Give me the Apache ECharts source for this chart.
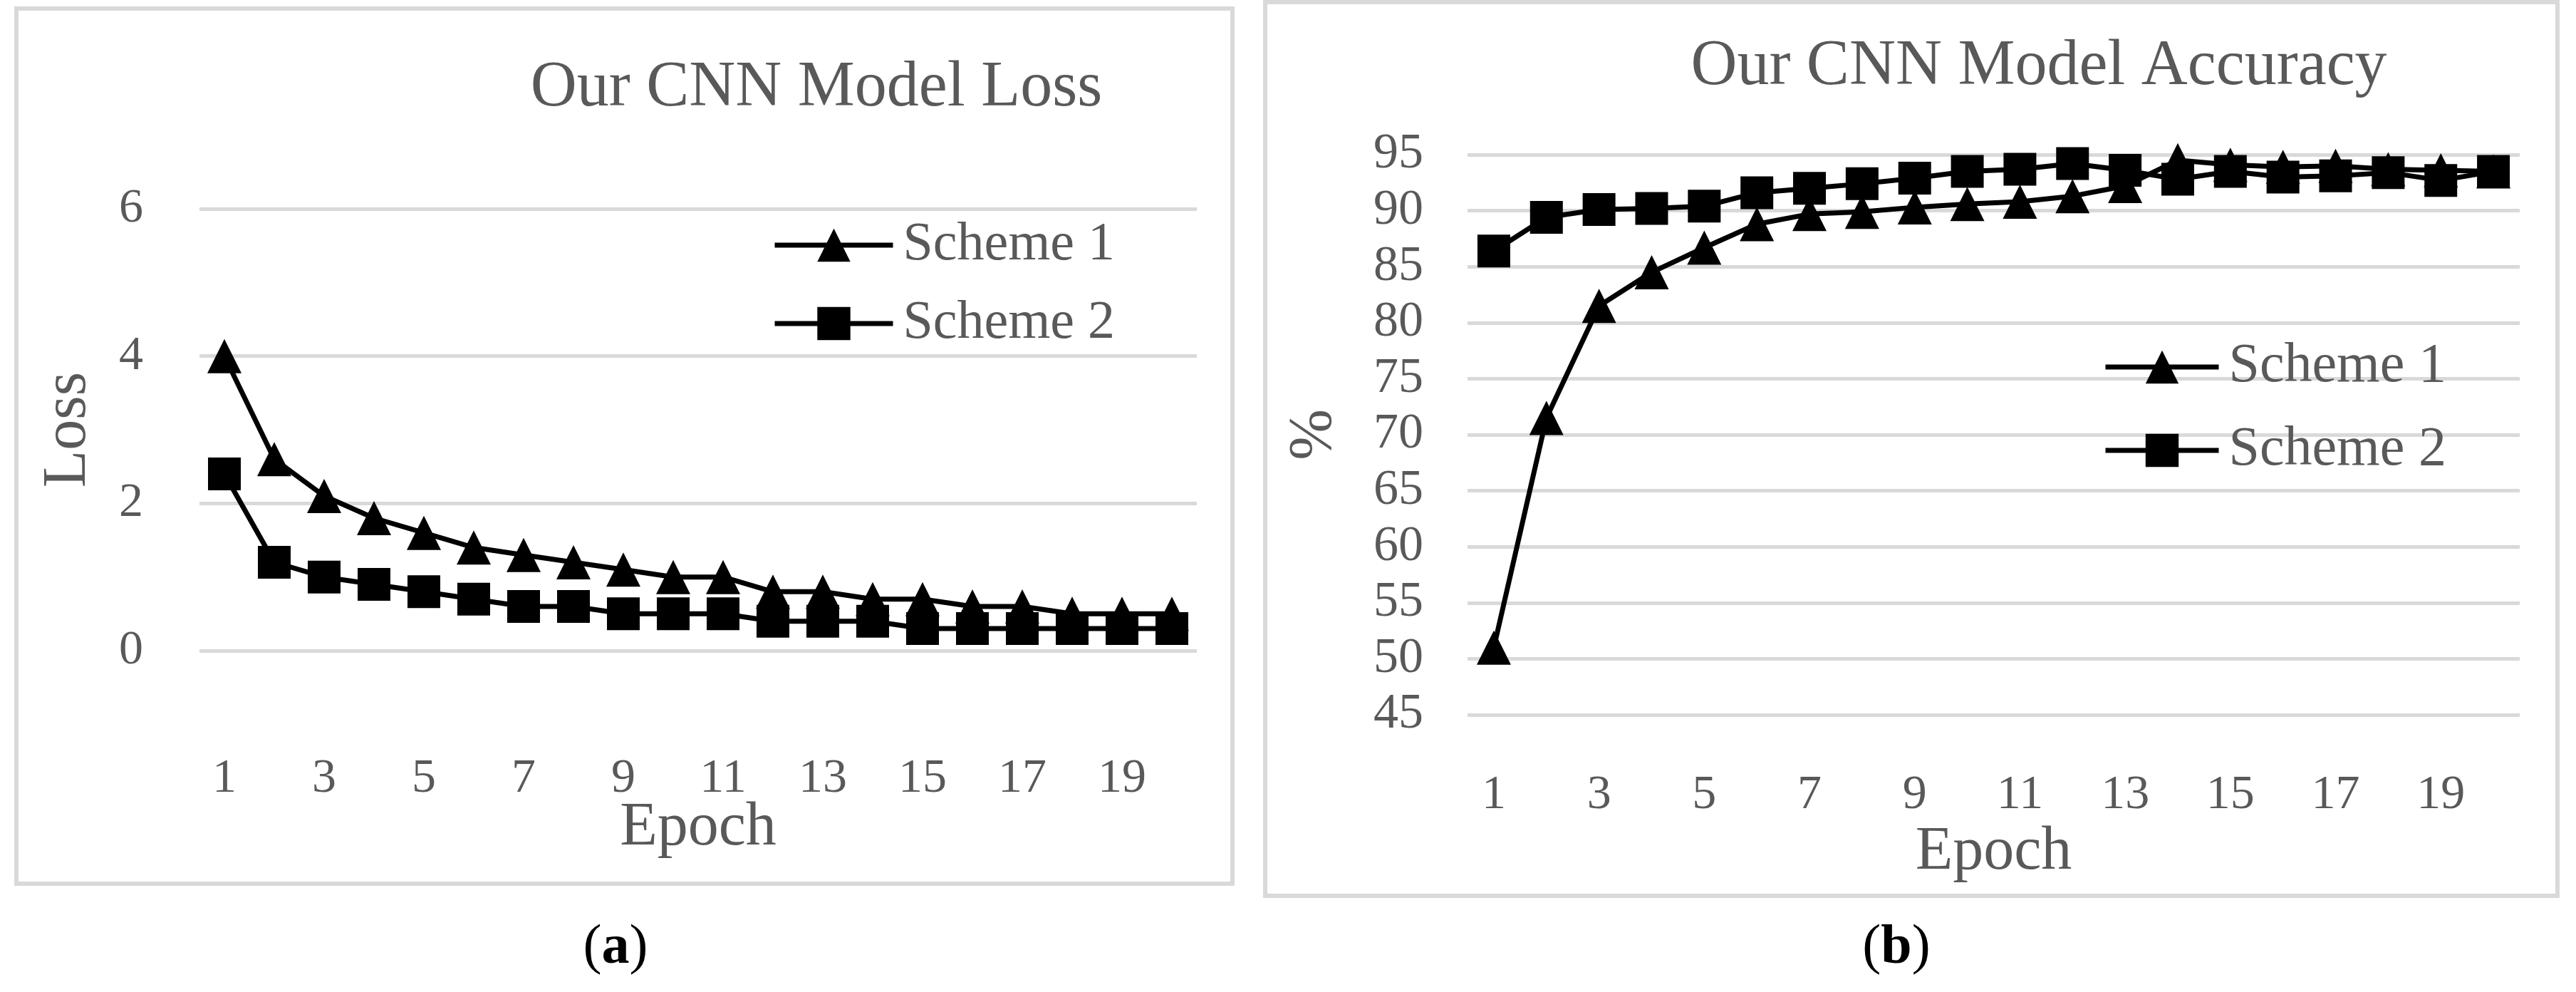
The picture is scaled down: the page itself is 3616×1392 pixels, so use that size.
<!DOCTYPE html>
<html>
<head>
<meta charset="utf-8">
<script src="https://cdn.jsdelivr.net/npm/echarts@6/dist/echarts.min.js"></script>
<style>
html,body{margin:0;padding:0;background:#fff;}
#c{width:3616px;height:1392px;}
</style>
</head>
<body>
<div id="c"></div>
<script>
var epochs = ['1','2','3','4','5','6','7','8','9','10','11','12','13','14','15','16','17','18','19','20'];
var lossScheme1 = [4.0, 2.6, 2.1, 1.8, 1.6, 1.4, 1.3, 1.2, 1.1, 1.0, 1.0, 0.8, 0.8, 0.7, 0.7, 0.6, 0.6, 0.5, 0.5, 0.5];
var lossScheme2 = [2.4, 1.2, 1.0, 0.9, 0.8, 0.7, 0.6, 0.6, 0.5, 0.5, 0.5, 0.4, 0.4, 0.4, 0.3, 0.3, 0.3, 0.3, 0.3, 0.3];
var accScheme1 = [51.0, 71.5, 81.5, 84.5, 86.7, 88.8, 89.7, 89.9, 90.3, 90.6, 90.8, 91.3, 92.2, 94.5, 94.1, 93.9, 94.0, 93.7, 93.6, 93.5];
var accScheme2 = [86.4, 89.4, 90.1, 90.2, 90.4, 91.6, 92.0, 92.4, 92.9, 93.5, 93.7, 94.2, 93.6, 92.8, 93.5, 93.0, 93.1, 93.4, 92.7, 93.5];
var seriesNames = ['Scheme 1', 'Scheme 2'];
var titles = ['Our CNN Model Loss', 'Our CNN Model Accuracy'];
var captions = ['a', 'b'];

var FONT = 'Liberation Serif';
var GRAY = '#595959';
var GRID = '#d9d9d9';

var chart = echarts.init(document.getElementById('c'), null, {renderer: 'canvas'});

function lineSeries(name, data, sym, size, axisIdx) {
  return {
    name: name, type: 'line', data: data,
    xAxisIndex: axisIdx, yAxisIndex: axisIdx,
    symbol: sym, symbolSize: size, showSymbol: true, showAllSymbol: true,
    lineStyle: {color: '#000', width: 7},
    itemStyle: {color: '#000'},
    animation: false
  };
}

function xAxis(gridIdx, nameGap, labelMargin) {
  return {
    type: 'category', gridIndex: gridIdx, data: epochs, boundaryGap: true,
    axisLine: {show: false}, axisTick: {show: false},
    axisLabel: {interval: 1, color: GRAY, fontFamily: FONT, fontSize: 68, margin: labelMargin},
    name: 'Epoch', nameLocation: 'middle', nameGap: nameGap, nameMoveOverlap: false,
    nameTextStyle: {color: GRAY, fontFamily: FONT, fontSize: 86}
  };
}

function caption(letter, cx) {
  return {type: 'text', x: cx, y: 1331, style: {
    text: '(' + '{b|' + letter + '})',
    align: 'center', verticalAlign: 'middle',
    fontFamily: FONT, fontSize: 78, fill: '#000',
    rich: {b: {fontWeight: 'bold', fontFamily: FONT, fontSize: 78, fill: '#000'}}
  }};
}

var option = {
  backgroundColor: '#fff',
  animation: false,
  title: [
    {text: titles[0], left: 1141, top: 74, textAlign: 'center',
     textStyle: {color: GRAY, fontFamily: FONT, fontSize: 90, fontWeight: 'normal'}},
    {text: titles[1], left: 2857, top: 44, textAlign: 'center',
     textStyle: {color: GRAY, fontFamily: FONT, fontSize: 90, fontWeight: 'normal'}}
  ],
  legend: [
    {seriesIndex: [0,1], data: seriesNames, orient: 'vertical', left: 1079, top: 301,
     itemWidth: 166, itemHeight: 58, itemGap: 34,
     lineStyle: {width: 7, color: '#000'},
     textStyle: {color: GRAY, fontFamily: FONT, fontSize: 76, padding: [0,0,0,9]}},
    {data: seriesNames, orient: 'vertical', left: 2947, top: 471,
     itemWidth: 159, itemHeight: 58, itemGap: 39,
     lineStyle: {width: 7, color: '#000'},
     textStyle: {color: GRAY, fontFamily: FONT, fontSize: 78, padding: [0,0,0,9]}}
  ],
  grid: [
    {left: 280, width: 1400, top: 293, height: 620},
    {left: 2060, width: 1477, top: 217, height: 786}
  ],
  xAxis: [xAxis(0, 206, 146), xAxis(1, 150, 79)],
  yAxis: [
    {type: 'value', gridIndex: 0, min: 0, max: 6, interval: 2,
     axisLine: {show: false}, axisTick: {show: false},
     splitLine: {lineStyle: {color: GRID, width: 5}},
     axisLabel: {color: GRAY, fontFamily: FONT, fontSize: 68, margin: 79},
     name: 'Loss', nameLocation: 'middle', nameGap: 141, nameMoveOverlap: false,
     nameTextStyle: {color: GRAY, fontFamily: FONT, fontSize: 86}},
    {type: 'value', gridIndex: 1, min: 45, max: 95, interval: 5,
     axisLine: {show: false}, axisTick: {show: false},
     splitLine: {lineStyle: {color: GRID, width: 5}},
     axisLabel: {color: GRAY, fontFamily: FONT, fontSize: 70, margin: 62},
     name: '%', nameLocation: 'middle', nameGap: 172, nameMoveOverlap: false,
     nameTextStyle: {color: GRAY, fontFamily: FONT, fontSize: 86}}
  ],
  series: [
    lineSeries(seriesNames[0], lossScheme1, 'triangle', 48, 0),
    lineSeries(seriesNames[1], lossScheme2, 'rect', 46, 0),
    lineSeries(seriesNames[0], accScheme1, 'triangle', 48, 1),
    lineSeries(seriesNames[1], accScheme2, 'rect', 46, 1)
  ],
  graphic: [
    {type: 'rect', shape: {x: 23, y: 12, width: 1707, height: 1228},
     style: {fill: 'none', stroke: GRID, lineWidth: 6}, z: -10, silent: true},
    {type: 'rect', shape: {x: 1776, y: 3, width: 1814, height: 1254},
     style: {fill: 'none', stroke: GRID, lineWidth: 6}, z: -10, silent: true},
    caption(captions[0], 864),
    caption(captions[1], 2662)
  ]
};
chart.setOption(option);
</script>
</body>
</html>
